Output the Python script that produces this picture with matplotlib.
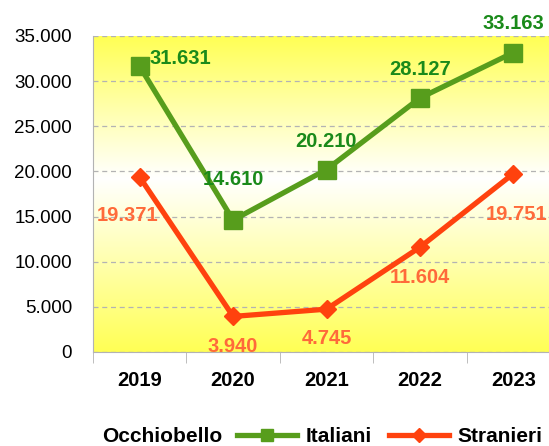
import numpy as np
import matplotlib.pyplot as plt
from matplotlib.colors import LinearSegmentedColormap
from matplotlib.lines import Line2D

anni = ['2019', '2020', '2021', '2022', '2023']
italiani = [31631, 14610, 20210, 28127, 33163]
stranieri = [19371, 3940, 4745, 11604, 19751]

# label offsets in pixels (dx, dy) from each marker
off_ita = [(41, 8), (0, 41), (0, 28), (0, 29), (0, 29)]
off_str = [(-12, -38), (0, -30), (0, -29), (0, -30), (3, -41)]

plt.rcParams['font.family'] = ['Liberation Sans', 'DejaVu Sans']

def fmt(v):
    return '{:,}'.format(int(v)).replace(',', '.')

fig = plt.figure(figsize=(5.49, 4.46), dpi=100)
W, H = 549, 446
ax = fig.add_axes([93 / W, 1 - 352 / H, (560 - 93) / W, (352 - 36) / H])

x = np.arange(len(anni))
ax.set_xlim(-0.5, len(anni) - 0.5)
ax.set_ylim(0, 35000)

# yellow-white-yellow background gradient
cmap = LinearSegmentedColormap.from_list(
    'bg', [(0, '#ffff55'), (0.55, '#ffffff'), (1, '#ffff55')])
grad = np.linspace(0, 1, 256).reshape(-1, 1)
ax.imshow(grad, cmap=cmap, aspect='auto', extent=(-0.5, len(anni) - 0.5, 0, 35000),
          origin='lower', zorder=0)

ax.set_yticks(np.arange(0, 35001, 5000))
ax.set_yticklabels([fmt(v) for v in np.arange(0, 35001, 5000)], fontsize=13.5)
ax.yaxis.grid(True, linestyle=(0, (4, 3)), color='#b3b3b3', linewidth=0.9)
ax.set_xticks(x)
ax.set_xticklabels(anni, fontsize=14.5, fontweight='bold')
ax.set_xticks(np.arange(-0.5, len(anni), 1), minor=True)
ax.tick_params(axis='x', which='major', length=0, pad=14)
ax.tick_params(axis='x', which='minor', length=8, color='#b3b3b3')
ax.tick_params(axis='y', length=0, pad=15)
for s in ['top', 'right']:
    ax.spines[s].set_visible(False)
for s in ['left', 'bottom']:
    ax.spines[s].set_color('#b3b3b3')

green = '#579d1c'
orange = '#ff420e'
ax.plot(x, italiani, color=green, lw=3.8, marker='s', markersize=13, zorder=3)
ax.plot(x, stranieri, color=orange, lw=3.8, marker='D', markersize=9.5, zorder=3)

gl = '#1a8a1a'
ol = '#ff6a3a'
for i, v in enumerate(italiani):
    ax.annotate(fmt(v), (x[i], v), xytext=off_ita[i], textcoords='offset pixels',
                ha='center', va='center', color=gl, fontsize=14.5, fontweight='bold',
                zorder=4)
for i, v in enumerate(stranieri):
    ax.annotate(fmt(v), (x[i], v), xytext=off_str[i], textcoords='offset pixels',
                ha='center', va='center', color=ol, fontsize=14.5, fontweight='bold',
                zorder=4)

handles = [Line2D([], [], color=green, lw=3.8, marker='s', markersize=9),
           Line2D([], [], color=orange, lw=3.8, marker='D', markersize=7)]
leg = fig.legend(handles, ['Italiani', 'Stranieri'], loc='center left', ncol=2,
                 bbox_to_anchor=(237 / W, 1 - 437 / H), frameon=False,
                 prop={'size': 15, 'weight': 'bold'}, handlelength=2.9,
                 columnspacing=0.8, handletextpad=0.4, borderpad=0,
                 borderaxespad=0)
fig.text(222 / W, 1 - 437 / H, 'Occhiobello', ha='right', va='center',
         fontsize=15, fontweight='bold')

fig.savefig('out.png', dpi=100)
